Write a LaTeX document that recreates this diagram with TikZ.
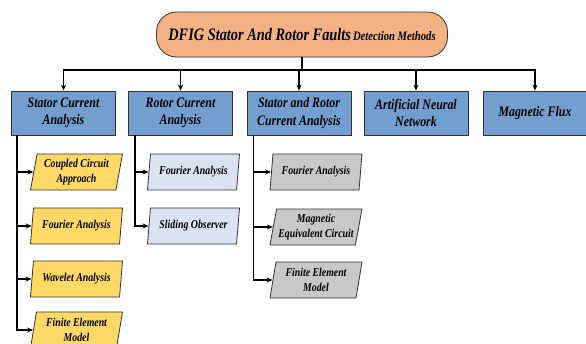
\documentclass[tikz,border=0pt]{standalone}
\usepackage{fontspec}
\setmainfont{Liberation Serif}
\newfontfamily\narrowserif{Liberation Serif}[FakeStretch=0.82]
\usepackage{xcolor}
\usetikzlibrary{arrows.meta,shapes.geometric}
\definecolor{methodblue}{RGB}{114,159,207}
\definecolor{titlesalmon}{RGB}{244,177,131}
\definecolor{statoryellow}{RGB}{255,217,102}
\definecolor{rotorblue}{RGB}{218,227,243}
\definecolor{bothgrey}{RGB}{200,200,200}
\tikzset{
	title/.style={
			draw=black!80, thick, fill=titlesalmon, rounded corners=20pt,
			minimum width=291pt, minimum height=45pt,
			font=\narrowserif\bfseries\itshape
		},
	method/.style={
			draw=black!80, thick, fill=methodblue,
			minimum width=104pt, minimum height=44pt, align=center,
			font=\narrowserif\bfseries\itshape\fontsize{14.5}{17.5}\selectfont
		},
	sub/.style={
			draw=black!80, thick, trapezium, trapezium left angle=76, trapezium right angle=104,
			trapezium stretches body, minimum width=92pt, minimum height=36pt,
			inner sep=0.5pt, align=center,
			font=\narrowserif\bfseries\itshape\fontsize{12}{14.5}\selectfont
		},
	link/.style={line width=1.5pt, -{Stealth[length=6pt,width=5pt]}}
}

\begin{document}
\begin{tikzpicture}[x=1pt, y=-1pt]
		\useasboundingbox (0, 0) rectangle (586, 343);

		\node[title] (dfig) at (302, 34.5) {{\fontsize{17.5}{19}\selectfont DFIG Stator And Rotor Faults} {\fontsize{13}{15}\selectfont Detection Methods}};
		\coordinate (bus) at (302, 70);

		\node[method] (sca) at (63.5, 113) {Stator Current\\Analysis};
		\node[method] (rca) at (180.5, 113) {Rotor Current\\Analysis};
		\node[method] (srca) at (299, 113) {Stator and Rotor\\Current Analysis};
		\node[method] (ann) at (416, 113) {Artificial Neural\\Network};
		\node[method] (mf) at (535, 113) {Magnetic Flux};

		\draw[line width=1.5pt] (dfig.south) -- (bus);
		\foreach \m in {sca, rca, srca, ann, mf}
			\draw[link] (bus) -| (\m.north);

		\node[sub, fill=statoryellow] (s1) at (76.5, 172) {Coupled Circuit\\Approach};
		\node[sub, fill=statoryellow] (s2) at (76.5, 226) {Fourier Analysis};
		\node[sub, fill=statoryellow] (s3) at (76.5, 279) {Wavelet Analysis};
		\node[sub, fill=statoryellow] (s4) at (76.5, 330) {Finite Element\\Model};

		\node[sub, fill=rotorblue] (r1) at (193.5, 172) {Fourier Analysis};
		\node[sub, fill=rotorblue] (r2) at (193.5, 226) {Sliding Observer};

		\node[sub, fill=bothgrey] (b1) at (316, 172) {Fourier Analysis};
		\node[sub, fill=bothgrey] (b2) at (316, 227) {Magnetic\\Equivalent Circuit};
		\node[sub, fill=bothgrey] (b3) at (316, 280) {Finite Element\\Model};

		\foreach \s in {s1, s2, s3, s4}
			\draw[link] ([xshift=6pt]sca.south west) |- (\s.left side);
		\foreach \r in {r1, r2}
			\draw[link] ([xshift=7pt]rca.south west) |- (\r.left side);
		\foreach \b in {b1, b2, b3}
			\draw[link] ([xshift=7pt]srca.south west) |- (\b.left side);
\end{tikzpicture}
\end{document}
